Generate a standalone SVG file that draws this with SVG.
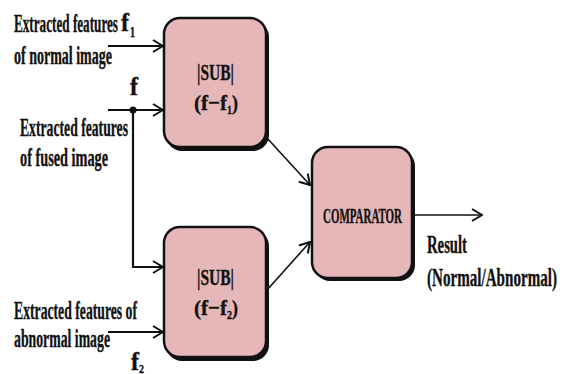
<svg xmlns="http://www.w3.org/2000/svg" width="563" height="374" viewBox="0 0 563 374">
  <style>
    .lbl { font-family: "Liberation Serif", "Times New Roman", serif; font-weight: bold; fill: #111; stroke: #111; stroke-width: 0.35; }
    .wire { stroke: #111; stroke-width: 2.2; fill: none; }
    .thin { stroke-width: 1.6; }
    .box { fill: #e6b7b8; stroke: #111; stroke-width: 2.5; }
    .shadow { fill: #111; }
  </style>
  <defs>
    <marker id="arrow" viewBox="0 0 12 14" refX="11" refY="7" markerWidth="12" markerHeight="14" markerUnits="userSpaceOnUse" orient="auto">
      <path d="M1,1 L11,7 L1,13" fill="none" stroke="#111" stroke-width="2"/>
    </marker>
  </defs>

  <rect width="563" height="374" fill="#ffffff"/>

  <!-- connectors -->
  <g id="connectors">
    <line class="wire" x1="108" y1="46" x2="163" y2="46" marker-end="url(#arrow)"/>
    <line class="wire" x1="108" y1="110" x2="163" y2="110" marker-end="url(#arrow)"/>
    <polyline class="wire" points="133,110 133,267 163,267" marker-end="url(#arrow)"/>
    <circle cx="133" cy="110" r="3.5" fill="#111"/>
    <line class="wire" x1="108" y1="332" x2="163" y2="332" marker-end="url(#arrow)"/>
    <line class="wire thin" x1="267" y1="138" x2="310" y2="185" marker-end="url(#arrow)"/>
    <line class="wire thin" x1="267" y1="290" x2="310" y2="242" marker-end="url(#arrow)"/>
    <line class="wire thin" x1="412" y1="215" x2="482" y2="215" marker-end="url(#arrow)"/>
  </g>

  <!-- subtractor: f and f1 -->
  <g id="sub1">
    <rect class="shadow" x="166" y="21" width="103" height="130" rx="16"/>
    <rect class="box" x="164" y="18" width="102" height="129" rx="16"/>
    <text class="lbl" x="197" y="80" font-size="23" textLength="37" lengthAdjust="spacingAndGlyphs">|SUB|</text>
    <text class="lbl" x="194" y="110" font-size="22" textLength="33" lengthAdjust="spacingAndGlyphs">(f−f</text>
    <text class="lbl" x="227" y="114" font-size="13" textLength="5" lengthAdjust="spacingAndGlyphs">1</text>
    <text class="lbl" x="232" y="110" font-size="22" textLength="6" lengthAdjust="spacingAndGlyphs">)</text>
  </g>

  <!-- subtractor: f and f2 -->
  <g id="sub2">
    <rect class="shadow" x="166" y="230" width="103" height="131" rx="16"/>
    <rect class="box" x="164" y="227" width="102" height="130" rx="16"/>
    <text class="lbl" x="197" y="285" font-size="23" textLength="37" lengthAdjust="spacingAndGlyphs">|SUB|</text>
    <text class="lbl" x="194" y="315" font-size="22" textLength="33" lengthAdjust="spacingAndGlyphs">(f−f</text>
    <text class="lbl" x="227" y="319" font-size="13" textLength="5" lengthAdjust="spacingAndGlyphs">2</text>
    <text class="lbl" x="232" y="315" font-size="22" textLength="6" lengthAdjust="spacingAndGlyphs">)</text>
  </g>

  <!-- comparator -->
  <g id="comparator">
    <rect class="shadow" x="314" y="150" width="101" height="131" rx="16"/>
    <rect class="box" x="312" y="147" width="100" height="131" rx="16"/>
    <text class="lbl" x="323" y="223" font-size="20" textLength="79" lengthAdjust="spacingAndGlyphs">COMPARATOR</text>
  </g>

  <!-- input / output labels -->
  <g id="labels">
    <text class="lbl" x="14" y="32" font-size="25" textLength="104" lengthAdjust="spacingAndGlyphs">Extracted features</text>
    <text class="lbl" x="121" y="31" font-size="25" textLength="8" lengthAdjust="spacingAndGlyphs">f</text>
    <text class="lbl" x="130" y="37" font-size="14" textLength="5" lengthAdjust="spacingAndGlyphs">1</text>
    <text class="lbl" x="14" y="64" font-size="25" textLength="98" lengthAdjust="spacingAndGlyphs">of normal image</text>
    <text class="lbl" x="130" y="95" font-size="25" textLength="8" lengthAdjust="spacingAndGlyphs">f</text>
    <text class="lbl" x="20" y="136" font-size="25" textLength="108" lengthAdjust="spacingAndGlyphs">Extracted features</text>
    <text class="lbl" x="20" y="166" font-size="25" textLength="88" lengthAdjust="spacingAndGlyphs">of fused image</text>
    <text class="lbl" x="14" y="319" font-size="25" textLength="123" lengthAdjust="spacingAndGlyphs">Extracted features of</text>
    <text class="lbl" x="14" y="347" font-size="25" textLength="96" lengthAdjust="spacingAndGlyphs">abnormal image</text>
    <text class="lbl" x="131" y="370" font-size="25" textLength="8" lengthAdjust="spacingAndGlyphs">f</text>
    <text class="lbl" x="139" y="373" font-size="13" textLength="5" lengthAdjust="spacingAndGlyphs">2</text>
    <text class="lbl" x="427" y="253" font-size="25" textLength="40" lengthAdjust="spacingAndGlyphs">Result</text>
    <text class="lbl" x="427" y="286" font-size="25" textLength="130" lengthAdjust="spacingAndGlyphs">(Normal/Abnormal)</text>
  </g>
</svg>
